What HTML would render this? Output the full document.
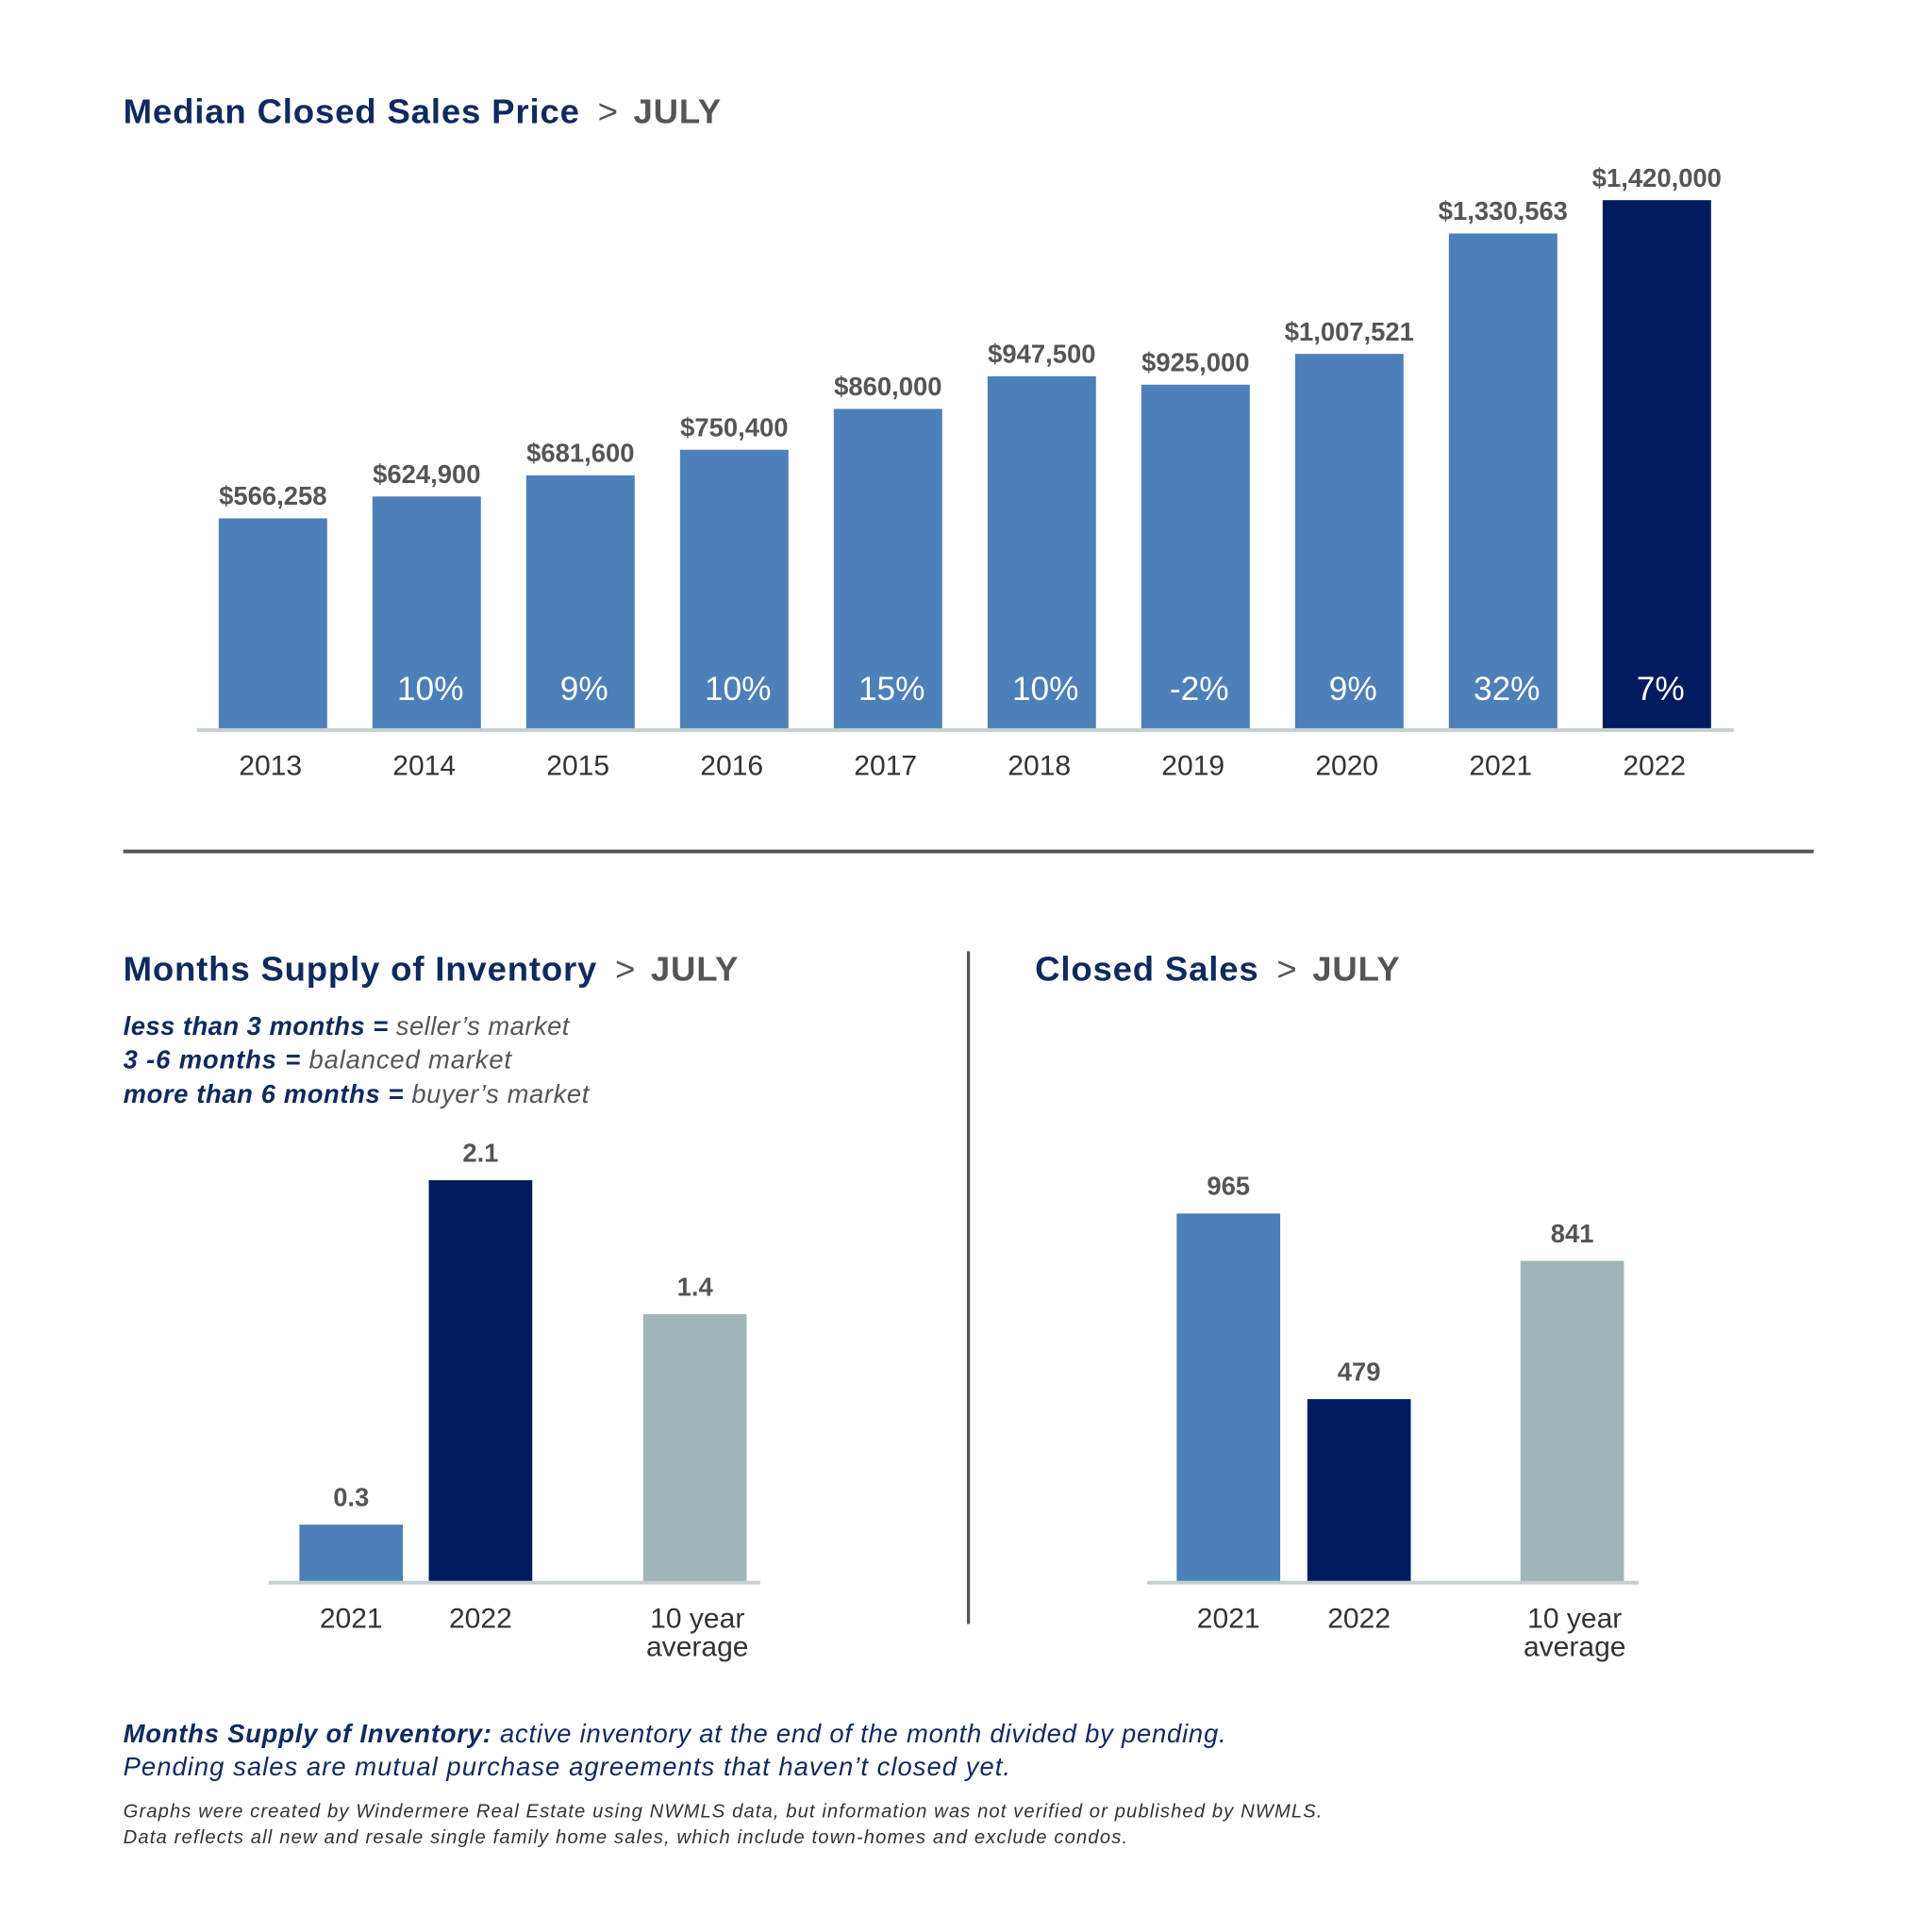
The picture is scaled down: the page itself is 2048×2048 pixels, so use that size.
<!DOCTYPE html>
<html><head><meta charset="utf-8"><style>
html,body{margin:0;padding:0;background:#fff;}
svg{display:block;font-family:"Liberation Sans",sans-serif;}
</style></head><body>
<svg width="2048" height="2048" viewBox="0 0 1568 1568">
<g id="top"></g>
<g id="inv"></g>
<g id="cs"></g>
<g>
<text x="100" y="100" font-size="28" font-weight="bold" fill="#0f2a5e" textLength="485" lengthAdjust="spacing">Median Closed Sales Price <tspan fill="#555" font-weight="normal" dx="6">&gt;</tspan><tspan fill="#555" dx="12">JULY</tspan></text>
<line x1="100" y1="691" x2="1472" y2="691" stroke="#555" stroke-width="3"/>
<text x="100" y="796" font-size="28" font-weight="bold" fill="#0f2a5e" textLength="499" lengthAdjust="spacing">Months Supply of Inventory <tspan fill="#555" font-weight="normal" dx="6">&gt;</tspan><tspan fill="#555" dx="12">JULY</tspan></text>
<text x="840" y="796" font-size="28" font-weight="bold" fill="#0f2a5e" textLength="296" lengthAdjust="spacing">Closed Sales <tspan fill="#555" font-weight="normal" dx="6">&gt;</tspan><tspan fill="#555" dx="12">JULY</tspan></text>
<line x1="786" y1="772" x2="786" y2="1318" stroke="#555" stroke-width="2.5"/>
<g font-size="21" font-style="italic">
<text x="100" y="840" textLength="362" lengthAdjust="spacing"><tspan fill="#0f2a5e" font-weight="bold">less than 3 months =</tspan><tspan fill="#555"> seller’s market</tspan></text>
<text x="100" y="867" textLength="315" lengthAdjust="spacing"><tspan fill="#0f2a5e" font-weight="bold">3 -6 months =</tspan><tspan fill="#555"> balanced market</tspan></text>
<text x="100" y="895" textLength="378" lengthAdjust="spacing"><tspan fill="#0f2a5e" font-weight="bold">more than 6 months =</tspan><tspan fill="#555"> buyer’s market</tspan></text>
</g>
<g font-size="21" font-style="italic" fill="#0f2a5e">
<text x="100" y="1414" textLength="895" lengthAdjust="spacing"><tspan font-weight="bold">Months Supply of Inventory:</tspan> active inventory at the end of the month divided by pending.</text>
<text x="100" y="1441" textLength="720" lengthAdjust="spacing">Pending sales are mutual purchase agreements that haven’t closed yet.</text>
</g>
<g font-size="15.5" font-style="italic" fill="#333">
<text x="100" y="1475" textLength="973" lengthAdjust="spacing">Graphs were created by Windermere Real Estate using NWMLS data, but information was not verified or published by NWMLS.</text>
<text x="100" y="1496" textLength="815" lengthAdjust="spacing">Data reflects all new and resale single family home sales, which include town-homes and exclude condos.</text>
</g>
</g>
</svg>
<script>
const NS='http://www.w3.org/2000/svg';
const years=['2013','2014','2015','2016','2017','2018','2019','2020','2021','2022'];
const prices=[566258,624900,681600,750400,860000,947500,925000,1007521,1330563,1420000];
const priceLabels=['$566,258','$624,900','$681,600','$750,400','$860,000','$947,500','$925,000','$1,007,521','$1,330,563','$1,420,000'];
const pctLabels=['','10%','9%','10%','15%','10%','-2%','9%','32%','7%'];
const invCats=['2021','2022','10 year average'];
const invVals=[0.3,2.1,1.4];
const invLabels=['0.3','2.1','1.4'];
const csCats=['2021','2022','10 year average'];
const csVals=[965,479,841];
const csLabels=['965','479','841'];
function mk(p,tag,a,t){const e=document.createElementNS(NS,tag);for(const k in a)e.setAttribute(k,a[k]);if(t!==undefined)e.textContent=t;p.appendChild(e);return e;}
(function(){
const g=document.getElementById('top');
const base=592, yScale=v=>base-v*0.0003025, xC=i=>221.5+i*124.8, bw=88;
for(let i=0;i<years.length;i++){
 const x=xC(i),y=yScale(prices[i]);
 const r=mk(g,'rect',{x:x-bw/2,y:y,width:bw,height:base-y,fill:i==years.length-1?'#001c5e':'#4d7fb8'});
 
 
 const l=mk(g,'text',{x:x,y:y-11,'text-anchor':'middle','font-size':21,'font-weight':'bold',fill:'#555'},priceLabels[i]);
 
 
 if(pctLabels[i]){const p=mk(g,'text',{x:x+3,y:568,'text-anchor':'middle','font-size':27,fill:'#fff'},pctLabels[i]);
 
 }
 const yl=mk(g,'text',{x:x-2,y:629,'text-anchor':'middle','font-size':23,fill:'#333'},years[i]);
 
 
}
const ax=mk(g,'line',{x1:160,y1:592.5,x2:1407,y2:592.5,stroke:'#c5cfd1','stroke-width':3});


})();
function small(id,cats,vals,labels,xs,scale,ax1,ax2){
 const g=document.getElementById(id);const base=1284;const cols=['#4d7fb8','#001c5e','#9fb5b8'];
 for(let i=0;i<cats.length;i++){
  const y=base-vals[i]*scale,x=xs[i];
  const r=mk(g,'rect',{x:x-42,y:y,width:84,height:base-y,fill:cols[i]});
  
  
  const l=mk(g,'text',{x:x,y:y-15,'text-anchor':'middle','font-size':21,'font-weight':'bold',fill:'#555'},labels[i]);
  
  
  const parts=cats[i]=='10 year average'?['10 year','average']:[cats[i]];
  parts.forEach((s,j)=>{const t=mk(g,'text',{x:x+(parts.length>1?2:0),y:1321+j*23,'text-anchor':'middle','font-size':23,fill:'#333'},s);
  
  });
 }
 const a=mk(g,'line',{x1:ax1,y1:1284.5,x2:ax2,y2:1284.5,stroke:'#c5cfd1','stroke-width':3});
 
 
}
small('inv',invCats,invVals,invLabels,[285,390,564],155.3,218,617);
small('cs',csCats,csVals,csLabels,[997,1103,1276],0.31,931,1330);
</script>
</body></html>
